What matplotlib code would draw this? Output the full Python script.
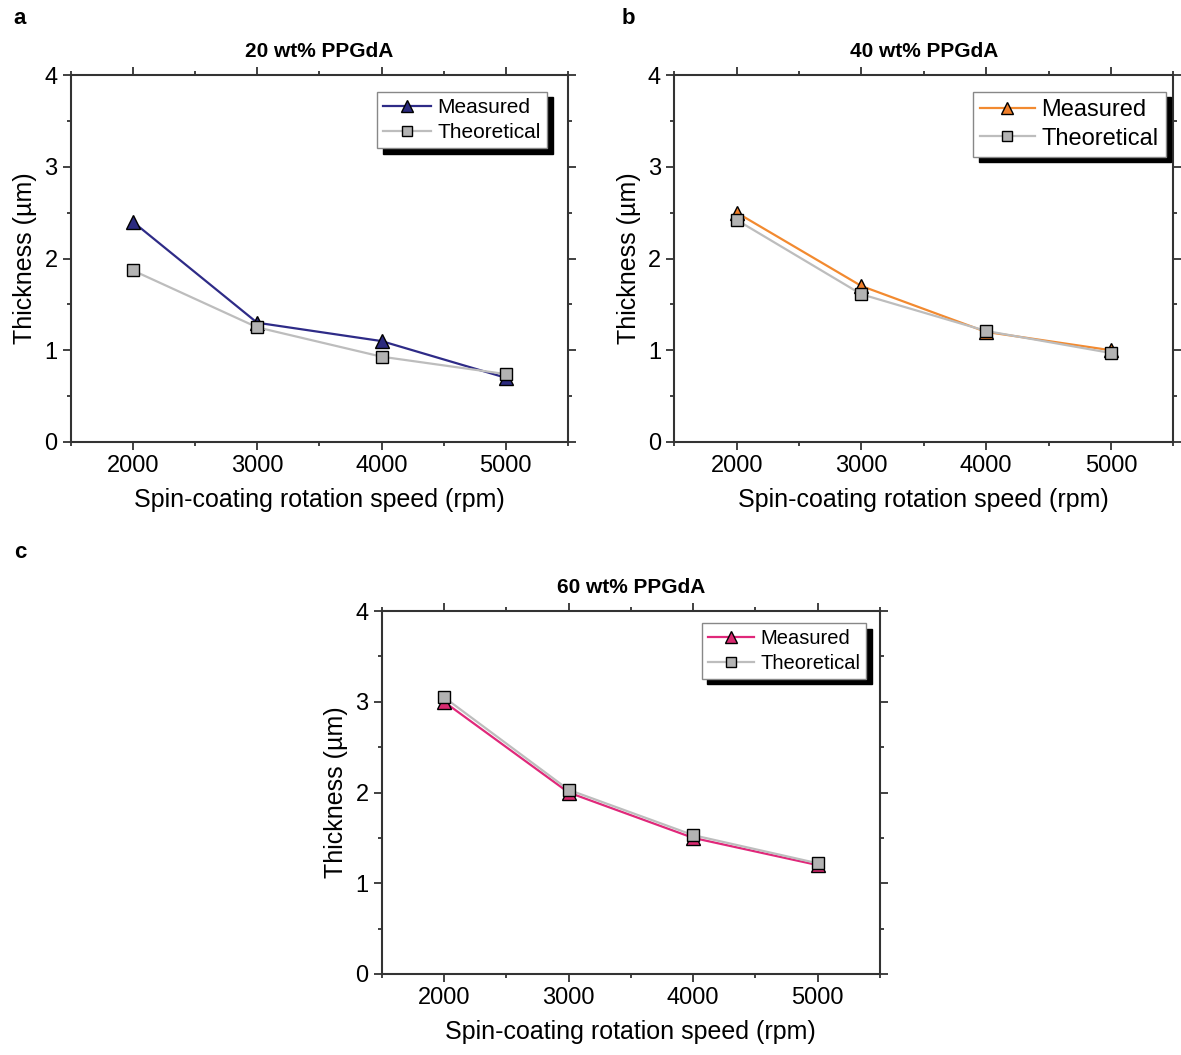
import matplotlib
matplotlib.use("Agg")
import matplotlib.pyplot as plt
from matplotlib.ticker import MultipleLocator

plt.rcParams['font.family'] = ['Liberation Sans', 'DejaVu Sans']

speeds = [2000, 3000, 4000, 5000]
titles = ["20 wt% PPGdA", "40 wt% PPGdA", "60 wt% PPGdA"]
panel_letters = ["a", "b", "c"]
measured_20 = [2.40, 1.30, 1.10, 0.70]
theoretical_20 = [1.87, 1.25, 0.93, 0.74]
measured_40 = [2.50, 1.70, 1.20, 1.00]
theoretical_40 = [2.42, 1.61, 1.21, 0.97]
measured_60 = [3.00, 2.00, 1.50, 1.20]
theoretical_60 = [3.05, 2.03, 1.53, 1.22]

measured = [measured_20, measured_40, measured_60]
theoretical = [theoretical_20, theoretical_40, theoretical_60]
m_line_colors = ["#2e2b87", "#f28a30", "#e0287a"]
m_face_colors = ["#2b2a7e", "#f07f2a", "#d92a70"]
legend_sizes = [15, 17, 14.5]
legend_anchor = [(0.958, 0.954), (0.985, 0.954), (0.972, 0.967)]

W, H = 1181, 1055
fig = plt.figure(figsize=(W / 100, H / 100), dpi=100)

positions = [
    (70.7, 75, 568, 442),
    (674.3, 75, 1173.3, 442),
    (381.7, 611, 880, 974),
]

spine_col = "#333333"
for i, (x0, y0, x1, y1) in enumerate(positions):
    ax = fig.add_axes([x0 / W, 1 - y1 / H, (x1 - x0) / W, (y1 - y0) / H])
    ax.plot(speeds, measured[i], color=m_line_colors[i], lw=1.6, marker="^",
            ms=10, mfc=m_face_colors[i], mec="black", mew=1.0, label="Measured",
            zorder=3)
    ax.plot(speeds, theoretical[i], color="#bdbdbd", lw=1.6, marker="s",
            ms=8, mfc="#b3b3b3", mec="black", mew=1.0, label="Theoretical",
            zorder=4)
    ax.set_xlim(1500, 5500)
    ax.set_ylim(0, 4)
    ax.xaxis.set_major_locator(MultipleLocator(1000))
    ax.xaxis.set_minor_locator(MultipleLocator(500))
    ax.yaxis.set_major_locator(MultipleLocator(1))
    ax.yaxis.set_minor_locator(MultipleLocator(0.5))
    ax.set_xticks([2000, 3000, 4000, 5000])
    ax.tick_params(which="both", direction="out", top=True, right=True,
                   color=spine_col, width=1.3)
    ax.tick_params(which="major", length=5.5, labelsize=17, pad=4)
    ax.tick_params(which="minor", length=3)
    for s in ax.spines.values():
        s.set_color(spine_col)
        s.set_linewidth(1.5)
    ax.set_xlabel("Spin-coating rotation speed (rpm)", fontsize=18, labelpad=8)
    ax.set_ylabel("Thickness (\u00b5m)", fontsize=18, labelpad=5)
    ax.set_title(titles[i], fontsize=15, fontweight="bold", pad=13)
    leg = ax.legend(loc="upper right", bbox_to_anchor=legend_anchor[i],
                    borderaxespad=0, fontsize=legend_sizes[i], fancybox=False,
                    edgecolor="#888888", framealpha=1, markerscale=0.85,
                    shadow={"color": "black", "alpha": 1, "ox": 4, "oy": -4},
                    handlelength=2.3, handletextpad=0.3, labelspacing=0.28,
                    borderpad=0.3)
    leg.get_frame().set_linewidth(1.0)

fig.text(20 / W, 1 - 18 / H, "a", fontsize=16, fontweight="bold", ha="center", va="center")
fig.text(628 / W, 1 - 18 / H, "b", fontsize=16, fontweight="bold", ha="center", va="center")
fig.text(20 / W, 1 - 552 / H, "c", fontsize=16, fontweight="bold", ha="center", va="center")

fig.savefig("out.png", dpi=100, facecolor="white")
